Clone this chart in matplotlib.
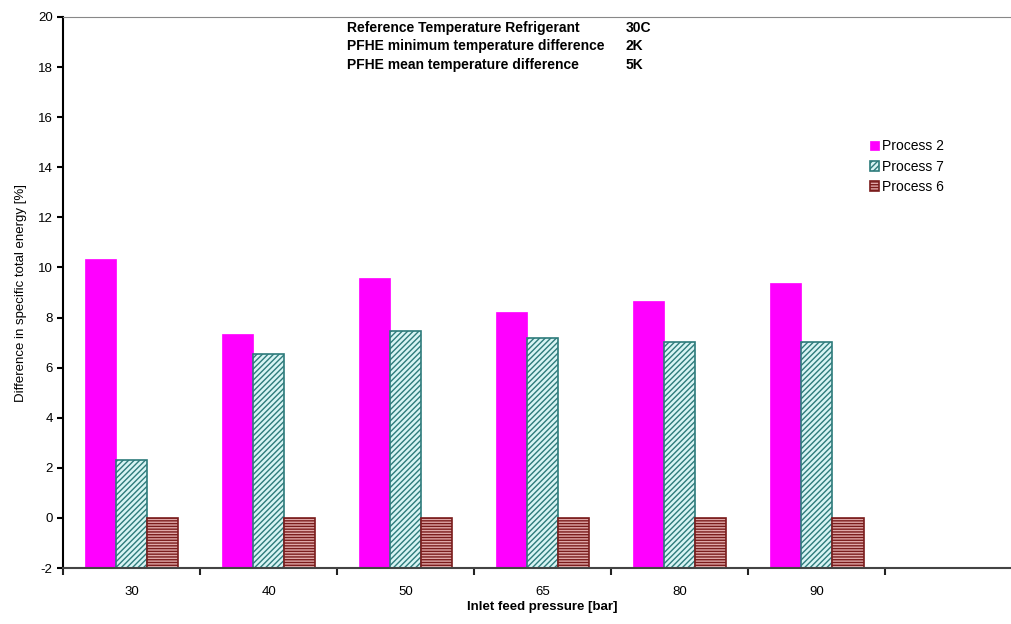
import numpy as np
import matplotlib.pyplot as plt

# datos
presiones = ["30", "40", "50", "65", "80", "90"]
proceso_2 = [10.35, 7.35, 9.58, 8.22, 8.67, 9.37]
proceso_7 = [2.3, 6.55, 7.46, 7.19, 7.04, 7.04]
proceso_6 = [0.0, 0.0, 0.0, 0.0, 0.0, 0.0]
base = -2

y_ticks = [20, 18, 16, 14, 12, 10, 8, 6, 4, 2, 0, -2]

notas = ["Reference Temperature Refrigerant",
         "PFHE minimum temperature difference",
         "PFHE mean temperature difference"]
notas_valor = ["30C", "2K", "5K"]

plt.rcParams['font.family'] = ['Liberation Sans', 'DejaVu Sans']
plt.rcParams['hatch.linewidth'] = 1.0

fig = plt.figure(figsize=(10.11, 6.24), dpi=100)
ax = fig.add_axes([0.0623, 0.0897, 0.949, 0.8831])

x = np.arange(len(presiones))
ancho = 0.227

ax.bar(x - ancho, np.array(proceso_2) - base, ancho, bottom=base,
       color="#ff00ff", edgecolor="#ff00ff", linewidth=0.5, label="Process 2")
ax.bar(x, np.array(proceso_7) - base, ancho, bottom=base,
       color="#d8f4f4", edgecolor="#2e7b7b", hatch="//////", linewidth=1.2,
       label="Process 7")
ax.bar(x + ancho, np.array(proceso_6) - base, ancho, bottom=base,
       color="#e0a8a8", edgecolor="#7a1c1c", hatch="------", linewidth=1.2,
       label="Process 6")

ax.set_xlim(-0.5, 6.5)
ax.set_ylim(-2, 20)
ax.set_yticks(y_ticks)
ax.set_yticklabels([str(v) for v in y_ticks])
ax.set_xticks(x)
ax.set_xticklabels(presiones)
ax.set_xticks(np.arange(-0.5, 7.0, 1.0), minor=True)
ax.tick_params(axis='x', which='major', length=0, pad=13, labelsize=9.5)
ax.tick_params(axis='x', which='minor', length=5, width=1.5, color="#222222")
ax.tick_params(axis='y', length=4, width=1.5, labelsize=9.5)

ax.spines['right'].set_visible(False)
ax.spines['top'].set_color("#888888")
ax.spines['left'].set_linewidth(1.5)
ax.spines['bottom'].set_linewidth(1.5)
ax.spines['bottom'].set_color("#444444")

ax.set_ylabel("Difference in specific total energy [%]", fontsize=9.5, labelpad=8)
ax.set_xlabel("Inlet feed pressure [bar]", fontsize=9.5, fontweight="bold", labelpad=2)

for i, (nota, valor) in enumerate(zip(notas, notas_valor)):
    yy = 0.955 - i * 0.0292
    fig.text(0.343, yy, nota, fontsize=10, fontweight="bold", va="center")
    fig.text(0.619, yy, valor, fontsize=10, fontweight="bold", va="center")

ax.legend(loc="upper left", bbox_to_anchor=(0.835, 0.788), frameon=False,
          fontsize=10, handlelength=0.7, handleheight=0.7, handletextpad=0.2,
          labelspacing=0.45, borderaxespad=0)

fig.savefig("out.png", dpi=100)
